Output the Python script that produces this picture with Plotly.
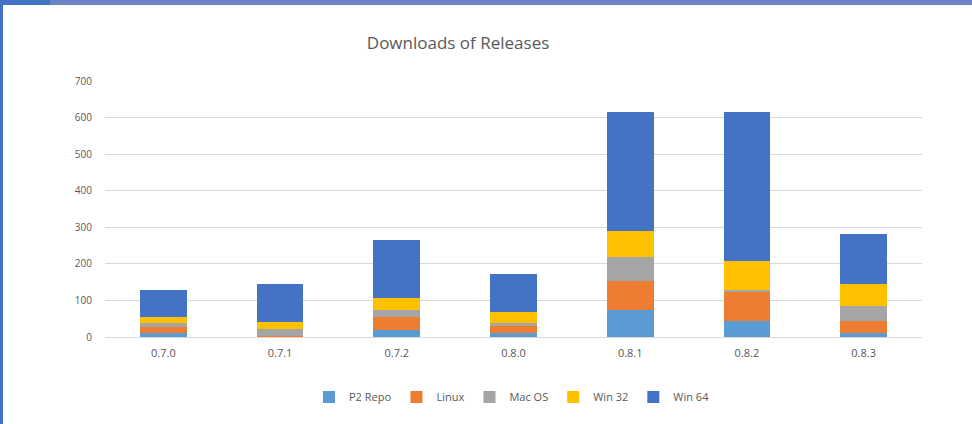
import plotly.graph_objects as go

releases = ["0.7.0", "0.7.1", "0.7.2", "0.8.0", "0.8.1", "0.8.2", "0.8.3"]
p2_repo = [12, 1, 20, 10, 75, 45, 11]
linux = [16, 3, 36, 20, 77, 77, 32]
mac_os = [11, 18, 18, 9, 68, 7, 41]
win_32 = [16, 20, 32, 30, 70, 79, 62]
win_64 = [73, 102, 159, 103, 326, 408, 137]

series = [
    ("P2 Repo", p2_repo, "#5B9BD5"),
    ("Linux", linux, "#ED7D31"),
    ("Mac OS", mac_os, "#A5A5A5"),
    ("Win 32", win_32, "#FFC000"),
    ("Win 64", win_64, "#4472C4"),
]

fig = go.Figure()
for name, vals, color in series:
    fig.add_trace(go.Bar(x=releases, y=vals, name=name, marker_color=color,
                         marker_line_width=0))

W, H = 972, 424
L, R, T, B = 105, 50, 81, 87
pw, ph = W - L - R, H - T - B

def px(x):
    return (x - L) / pw

def py(y):
    return (H - B - y) / ph

fig.update_layout(
    width=W, height=H,
    margin=dict(l=L, r=R, t=T, b=B),
    barmode="stack", bargap=0.6,
    paper_bgcolor="white", plot_bgcolor="white",
    font=dict(family="Open Sans", color="#595959", size=11),
    title=dict(text="Downloads of Releases", x=px(490), xanchor="center",
               y=1 - 43 / H, yanchor="middle",
               font=dict(size=17, color="#595959")),
    xaxis=dict(showgrid=False, showline=True, linecolor="#D9D9D9",
               ticks="", tickfont=dict(size=11, color="#595959"),
               ticklabelstandoff=6),
    yaxis=dict(range=[0, 700], dtick=100, showgrid=True, gridcolor="#D9D9D9",
               zeroline=False, ticks="", tickfont=dict(size=10, color="#595959"),
               ticklabelstandoff=12),
    legend=dict(orientation="h", x=px(512), xanchor="center", y=py(397),
                yanchor="middle", font=dict(size=11, color="#595959"),
                itemwidth=30, traceorder="normal"),
    showlegend=True,
    shapes=[
        dict(type="rect", xref="paper", yref="paper", x0=px(0), x1=px(W),
             y0=py(5), y1=py(0), fillcolor="#6A84C6", line_width=0, layer="above"),
        dict(type="rect", xref="paper", yref="paper", x0=px(0), x1=px(50),
             y0=py(5), y1=py(0), fillcolor="#4472C4", line_width=0, layer="above"),
        dict(type="rect", xref="paper", yref="paper", x0=px(0), x1=px(3),
             y0=py(H), y1=py(0), fillcolor="#4472C4", line_width=0, layer="above"),
    ],
)

fig.write_html("out.html")
